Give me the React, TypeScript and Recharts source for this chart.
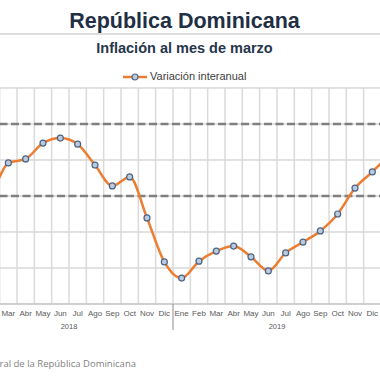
import { LineChart, Line, XAxis, YAxis, CartesianGrid, ReferenceLine } from 'recharts';

// Jan 2018 - Jan 2020 (only Mar 2018 - Dic 2019 is visible in the crop)
const months = [
  'Ene', 'Feb', 'Mar', 'Abr', 'May', 'Jun', 'Jul', 'Ago', 'Sep', 'Oct', 'Nov', 'Dic',
  'Ene', 'Feb', 'Mar', 'Abr', 'May', 'Jun', 'Jul', 'Ago', 'Sep', 'Oct', 'Nov', 'Dic',
  'Ene',
];
const years = [
  '2018', '2018', '2018', '2018', '2018', '2018', '2018', '2018', '2018', '2018', '2018', '2018',
  '2019', '2019', '2019', '2019', '2019', '2019', '2019', '2019', '2019', '2019', '2019', '2019',
  '2020',
];
const inflation = [
  3.4, 3.2, 3.92, 4.03, 4.47, 4.61, 4.44, 3.86, 3.28, 3.53, 2.39, 1.17,
  0.72, 1.19, 1.47, 1.61, 1.31, 0.92, 1.42, 1.72, 2.03, 2.5, 3.22, 3.67,
  4.15,
];
const targetRange = [3, 5];
const yTicks = [0, 1, 2, 3, 4, 5, 6];

const data = months.map((m, i) => ({
  key: `${m} ${years[i]}`,
  month: m,
  year: years[i],
  value: inflation[i],
}));

// the chart is wider than the window, the picture is a crop of it
const CHART_LEFT = -34.67;
const VIEW_W = 380;

function MonthTick({ x, y, payload }: any) {
  const d = data[payload.index];
  const half = payload.offset ?? 0;
  const screenX = x + CHART_LEFT;
  const visible = screenX > 0 && screenX < VIEW_W;
  return (
    <g>
      {visible && (
        <text x={x} y={y + 12} textAnchor="middle" fontSize={8} fill="#595959"
          fontFamily="'Liberation Sans', Arial, sans-serif">
          {d.month}
        </text>
      )}
      {d.month === 'Ene' && (
        <line x1={x - half} x2={x - half} y1={y} y2={y + 26} stroke="#8c8c8c" strokeWidth={1} />
      )}
      {d.month === 'Jun' && (
        <text x={x + half} y={y + 25.5} textAnchor="middle" fontSize={7.5} fill="#595959"
          fontFamily="'Liberation Sans', Arial, sans-serif">
          {d.year}
        </text>
      )}
    </g>
  );
}

export default function App() {
  return (
    <div style={{ position: 'fixed', top: 0, left: 0, width: VIEW_W, height: 380, overflow: 'hidden', background: '#fff' }}>
      <div style={{ position: 'absolute', left: CHART_LEFT, top: 0 }}>
        <LineChart width={433.33} height={380} data={data} margin={{ top: 88, right: 0, bottom: 0, left: 0 }}>
          {data.map((d) => (
            <ReferenceLine key={d.key} x={d.key} position="start" stroke="#dadada" strokeWidth={1.5} />
          ))}
          <CartesianGrid vertical={false} stroke="#c4c4c4" />
          <XAxis
            dataKey="key"
            scale="band"
            interval={0}
            height={76}
            tickLine={false}
            tickSize={0}
            tickMargin={0}
            axisLine={{ stroke: '#bfbfbf' }}
            tick={<MonthTick />}
          />
          <YAxis hide domain={[0, 6]} ticks={yTicks} />
          {targetRange.map((v) => (
            <ReferenceLine key={v} y={v} stroke="#7f7f7f" strokeWidth={2.5} strokeDasharray="8 3.5" />
          ))}
          <Line
            type="monotone"
            dataKey="value"
            stroke="#ED7D31"
            strokeWidth={2.5}
            dot={{ r: 3, fill: '#bccadd', stroke: '#4d6384', strokeWidth: 1.2 }}
            isAnimationActive={false}
          />
        </LineChart>
      </div>

      <div style={{ position: 'absolute', left: 0, top: 10.8, width: 369, textAlign: 'center', fontFamily: "'Liberation Sans', Arial, sans-serif", fontWeight: 'bold', fontSize: 21.5, lineHeight: '21.5px', color: '#1f2f44', whiteSpace: 'nowrap' }}>
        República Dominicana
      </div>
      <div style={{ position: 'absolute', left: 0, top: 33, width: VIEW_W, height: 2, background: '#dddddd' }} />
      <div style={{ position: 'absolute', left: 0, top: 41, width: 369, textAlign: 'center', fontFamily: "'Liberation Sans', Arial, sans-serif", fontWeight: 'bold', fontSize: 14.5, lineHeight: '14.5px', color: '#26364b', whiteSpace: 'nowrap' }}>
        Inflación al mes de marzo
      </div>

      <svg style={{ position: 'absolute', left: 123, top: 72.7 }} width={24} height={8}>
        <line x1={0} x2={24} y1={4} y2={4} stroke="#ED7D31" strokeWidth={2.5} />
        <circle cx={12} cy={4} r={3} fill="#bccadd" stroke="#4d6384" strokeWidth={1.2} />
      </svg>
      <div style={{ position: 'absolute', left: 150, top: 71.4, fontFamily: "'Liberation Sans', Arial, sans-serif", fontSize: 11, lineHeight: '11px', color: '#404040', whiteSpace: 'nowrap' }}>
        Variación interanual
      </div>

      <div style={{ position: 'absolute', right: 244, top: 358.9, fontFamily: "'Open Sans', sans-serif", fontSize: 9.5, lineHeight: '9.5px', color: '#7f7f7f', whiteSpace: 'nowrap' }}>
        Fuente: Banco Central de la República Dominicana
      </div>
    </div>
  );
}
